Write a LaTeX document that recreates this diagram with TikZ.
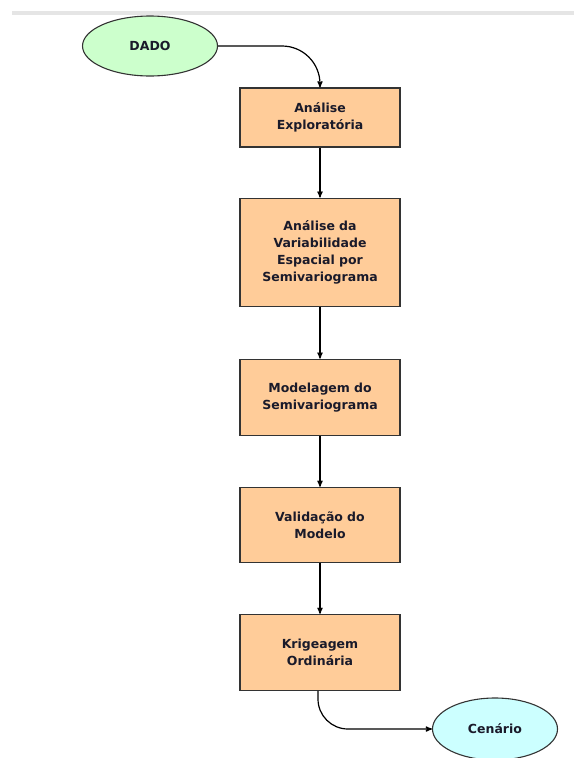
\documentclass[tikz,border=0pt]{standalone}
\usepackage{fontspec}
\setmainfont{DejaVu Sans}
\usepackage{xcolor}
\usetikzlibrary{arrows, shapes.geometric, positioning}

\definecolor{verdeclaro}{HTML}{CCFFCC}
\definecolor{pessego}{HTML}{FFCC99}
\definecolor{ciano}{HTML}{CCFFFF}
\definecolor{texto}{HTML}{1A1A2A}

\tikzset{
  etapa/.style={draw=black!80, fill=pessego, line width=1.1pt, rectangle,
                minimum width=160pt, text width=150pt, align=center,
                inner sep=0pt, font=\fontsize{12.5}{17}\selectfont\bfseries,
                text=texto},
  oval/.style={draw=black!80, line width=1.1pt, ellipse, inner sep=0pt,
               font=\fontsize{12.5}{17}\selectfont\bfseries, text=texto}
}

\begin{document}
\begin{tikzpicture}[x=1pt, y=-1pt, ->, >=stealth', line width=1.2pt]
            \useasboundingbox (0,0) rectangle (574,758);
            \fill[black!10, draw=none] (12,10.5) rectangle (574,15);

            % Inicio e fim
            \node[oval, fill=verdeclaro, minimum width=135pt, minimum height=60pt] (dado) at (150,46) {DADO};
            \node[oval, fill=ciano, minimum width=125pt, minimum height=62pt] (cen) at (495,729) {Cenário};

            % Etapas empilhadas
            \node[etapa, minimum height=59pt] (exp) at (320,117.5) {Análise\\Exploratória};
            \node[etapa, minimum height=108pt, below=50pt of exp] (var) {Análise da\\Variabilidade\\Espacial por\\Semivariograma};
            \node[etapa, minimum height=76pt, below=52pt of var] (mod) {Modelagem do\\Semivariograma};
            \node[etapa, minimum height=75pt, below=51pt of mod] (val) {Validação do\\Modelo};
            \node[etapa, minimum height=76pt, below=51pt of val] (kri) {Krigeagem\\Ordinária};

            % Setas
            \draw[rounded corners=38pt] (dado.east) -| (exp.north);
            \draw (exp) -- (var);
            \draw (var) -- (mod);
            \draw (mod) -- (val);
            \draw (val) -- (kri);
            \draw[rounded corners=30pt] ([xshift=-2pt]kri.south) |- (cen.west);

        \end{tikzpicture}
\end{document}
